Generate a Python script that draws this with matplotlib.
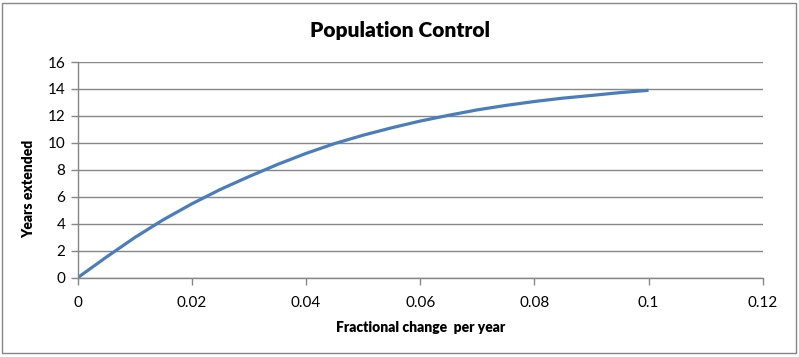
import matplotlib
matplotlib.use("Agg")
from matplotlib import pyplot as plt
from matplotlib.patches import Rectangle

# values
frac_change = [0, 0.005, 0.01, 0.015, 0.02, 0.025, 0.03, 0.035, 0.04, 0.045, 0.05,
               0.055, 0.06, 0.065, 0.07, 0.075, 0.08, 0.085, 0.09, 0.095, 0.1]
years_extended = [0, 1.52, 2.98, 4.3, 5.48, 6.55, 7.5, 8.4, 9.22, 9.95, 10.57,
                  11.12, 11.62, 12.05, 12.45, 12.78, 13.07, 13.32, 13.52, 13.73, 13.9]
x_ticks = [0, 0.02, 0.04, 0.06, 0.08, 0.1, 0.12]
x_tick_labels = ["0", "0.02", "0.04", "0.06", "0.08", "0.1", "0.12"]
y_ticks = [0, 2, 4, 6, 8, 10, 12, 14, 16]

plt.rcParams["font.family"] = ["Lato", "DejaVu Sans"]
grey = "#868686"

fig = plt.figure(figsize=(7.99, 3.57), dpi=100)
ax = fig.add_axes([0.0972, 0.2221, 0.8574, 0.6042])

ax.plot(frac_change, years_extended, color="#4a7ebb", linewidth=2.3,
        solid_capstyle="butt", solid_joinstyle="round")

ax.set_xlim(0, 0.12)
ax.set_ylim(0, 16)
ax.set_xticks(x_ticks)
ax.set_xticklabels(x_tick_labels)
ax.set_yticks(y_ticks)
ax.grid(axis="y", color=grey, linewidth=1)
ax.set_axisbelow(True)

for side in ["top", "right"]:
    ax.spines[side].set_visible(False)
for side in ["left", "bottom"]:
    ax.spines[side].set_color(grey)
    ax.spines[side].set_linewidth(1)
ax.tick_params(axis="both", colors=grey, length=5, width=1, labelcolor="black",
               labelsize=11)
ax.tick_params(axis="x", pad=8)
ax.tick_params(axis="y", pad=4)

ax.set_xlabel("Fractional change  per year", fontsize=10, fontweight="heavy",
              labelpad=8)
ax.set_ylabel("Years extended", fontsize=10, fontweight="heavy")
ax.yaxis.set_label_coords(-0.062, 0.41)
fig.text(0.5, 0.915, "Population Control", ha="center", va="center",
         fontsize=15, fontweight="heavy")

# outer chart border
fig.patches.append(Rectangle((0.003, 0.012), 0.993, 0.98, transform=fig.transFigure,
                             fill=False, edgecolor=grey, linewidth=1))

fig.savefig("out.png", dpi=100)
